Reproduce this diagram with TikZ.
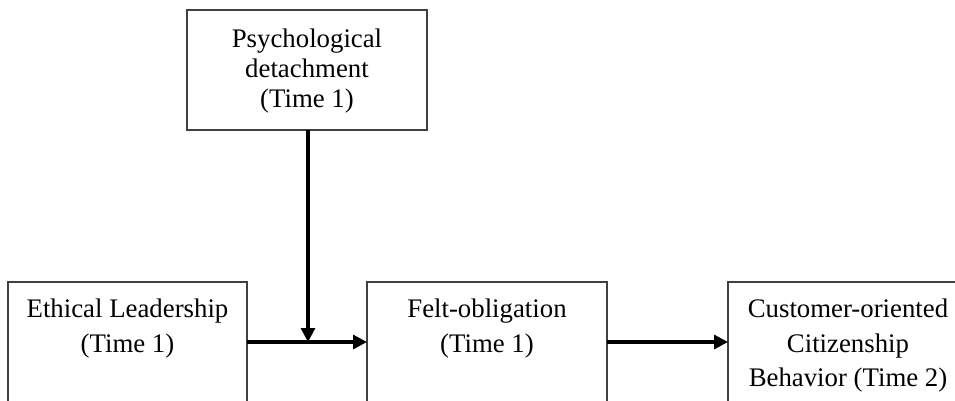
\documentclass[tikz,border=0pt]{standalone}
\usepackage{fontspec}
\setmainfont{Liberation Serif}
\usetikzlibrary{arrows.meta,calc}
\begin{document}
\begin{tikzpicture}[x=1pt,y=-1pt,
  box/.style={draw=black!75,line width=1.1pt,minimum width=240pt,minimum height=120pt,inner sep=0pt,outer sep=0pt},
  txt/.style={align=center,inner sep=0pt,anchor=north,text=black},
  arr/.style={line width=3.2pt,-{Triangle[length=14pt,width=14pt]}}]
\useasboundingbox[fill=white] (0,0) rectangle (955,401);
\node[box,minimum width=239pt] (el) at (127.5,342) {};
\node[box] (fo) at (487,342) {};
\node[box] (cb) at (848,342) {};
\node[box] (pd) at (307,70) {};
\node[txt,font=\fontsize{26.8}{34.5}\selectfont] (elt) at ($(el.north)+(0,17)$) {Ethical Leadership\\(Time 1)};
\node[txt,font=\fontsize{26.8}{34.5}\selectfont] (fot) at ($(fo.north)+(0,17)$) {Felt-obligation\\(Time 1)};
\node[txt,font=\fontsize{26.8}{34.5}\selectfont] (cbt) at ($(cb.north)+(0,17)$) {Customer-oriented\\Citizenship\\Behavior (Time 2)};
\node[txt,font=\fontsize{26.8}{30}\selectfont] (pdt) at ($(pd.north)+(0,19)$) {Psychological\\detachment\\(Time 1)};
\coordinate (m) at ($(pd.south |- el.east)+(1,0)$);
\draw[arr] (el.east) -- (fo.west);
\draw[arr] (fo.east) -- (cb.west);
\draw[arr] ($(pd.south)+(1,0)$) -- (m);
\end{tikzpicture}
\end{document}
